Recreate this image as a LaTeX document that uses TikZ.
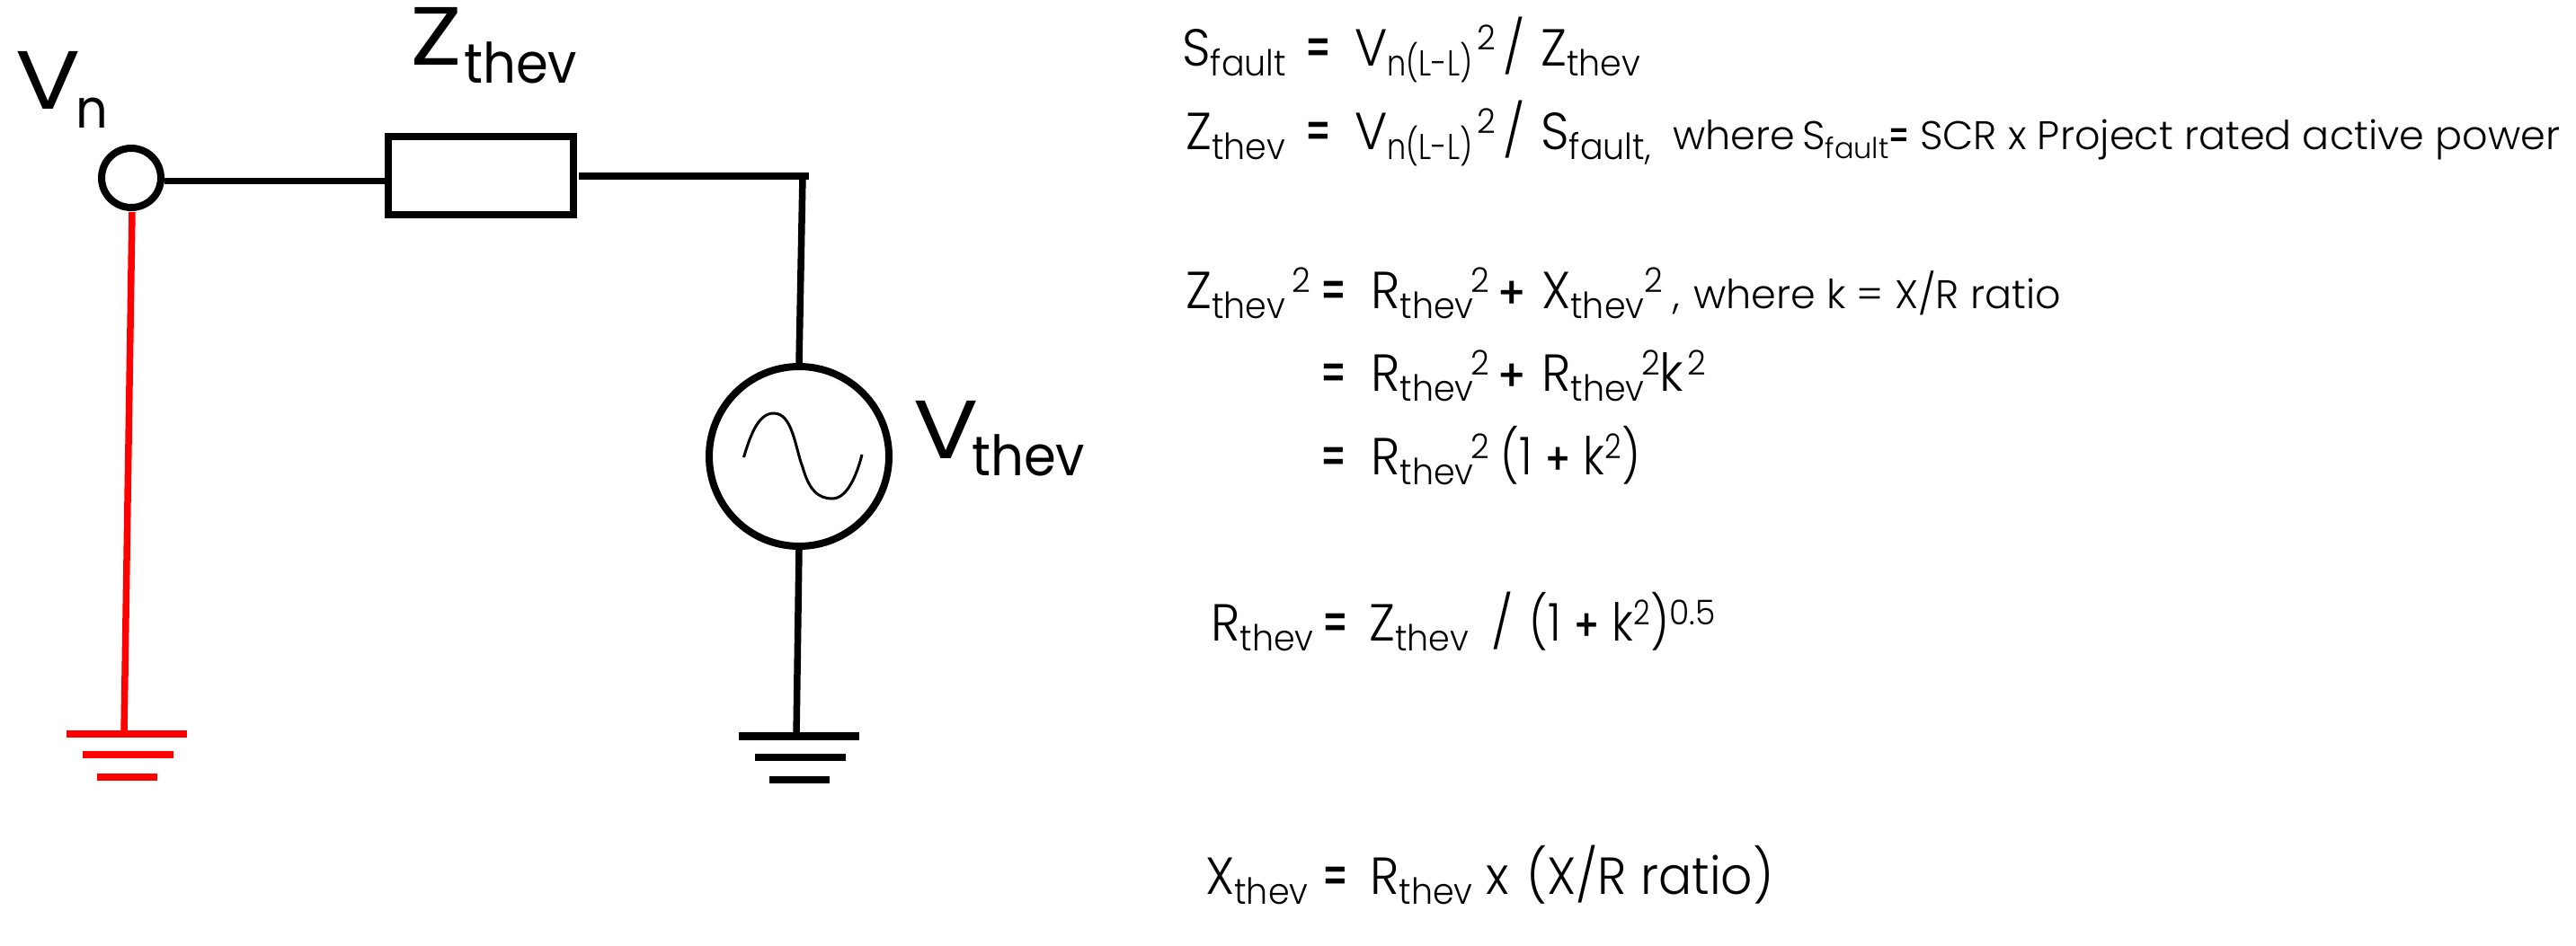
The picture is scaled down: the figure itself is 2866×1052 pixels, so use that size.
\documentclass[tikz,border=0pt]{standalone}
\usepackage{fontspec}
\setmainfont{Poppins}[UprightFont=* Light,BoldFont=* Medium,FakeStretch=0.95]
\newfontfamily\tailf{Poppins}[UprightFont=* Light,BoldFont=* Medium]
\newfontfamily\lblf{Poppins}[UprightFont=* Regular,FakeStretch=0.93]
\newcommand{\Fs}[1]{\fontsize{#1}{#1}\selectfont}
\newcommand{\Pc}[2]{\makebox[#1pt][l]{#2}}
\newcommand{\Sb}[1]{\raisebox{-11pt}{\Fs{40}#1}}
\newcommand{\Sbn}[1]{\raisebox{-11pt}{\scalebox{.88}[1]{\Fs{40}#1}}}
\newcommand{\Sbs}[1]{\raisebox{-10pt}{\Fs{32}#1}}
\newcommand{\Sp}[1]{\raisebox{18pt}{\Fs{38}#1}}
\newcommand{\Eq}{\hspace{-1pt}\scalebox{.72}[1]{\textbf{=}}}
\newcommand{\Pl}{\scalebox{.85}{\textbf{+}}}
\newcommand{\Nw}[1]{\scalebox{.9}[1]{#1}}
\newcommand{\Wd}[1]{\scalebox{1.25}[1]{#1}}
\tikzset{
  wire/.style={line width=7.5pt,black},
  redwire/.style={line width=7.5pt,red},
  eqline/.style={anchor=base west,inner sep=0pt,font=\Fs{58}},
  term/.style={anchor=base west,inner sep=0pt,font=\lblf}
}
\begin{document}
\begin{tikzpicture}[x=1pt,y=-1pt]
\useasboundingbox (0,0) rectangle (2866,1052);
% circuit
\node[circle,draw,line width=8pt,minimum size=66pt,inner sep=0pt] (vn) at (146,198) {};
\node[rectangle,draw,line width=7.5pt,minimum width=206pt,minimum height=87pt,inner sep=0pt] (zt) at (535,195.5) {};
\node[circle,draw,line width=8pt,minimum size=200pt,inner sep=0pt] (src) at (889,508) {};
\coordinate (cor) at (900,196);
\coordinate (corv) at (893,196);
\coordinate (zr) at (644,196);
\coordinate (gb) at (886,819);
\coordinate (gr) at (138,817);
\coordinate (vns) at (147,236);
\draw[wire] (vn.east |- 0,201.5) -- (zt.west |- 0,201.5);
\draw[wire] (zr) -- (cor);
\draw[wire] (corv) -- (src.north);
\draw[wire] (src.south) -- (gb);
\draw[redwire] (vns) -- (gr);
\draw[line width=3pt] (827.5,509) .. controls (836,480) and (845,460) .. (861,460)
  .. controls (882,460) and (885,500) .. (893,520)
  .. controls (900,545) and (910,555) .. (926,555)
  .. controls (942,555) and (953,530) .. (959,506);
\draw[line width=8.5pt] (822,819.5) -- (956,819.5) (840,843) -- (941,843) (856,868) -- (923,868);
\draw[red,line width=8.5pt] (74,817) -- (208,817) (92,840) -- (193,840) (108,865) -- (175,865);
% circuit labels
\node[term] (lvn) at (17,121) {\Fs{92}\Pc{67}{\Wd{V}}\raisebox{-21pt}{\Fs{60}n}};
\node[term] (lzt) at (456,72) {\Fs{92}\Pc{60}{\Wd{Z}}\raisebox{-20pt}{\Fs{62}thev}};
\node[term] (lvt) at (1016,510) {\Fs{92}\Pc{65}{\Wd{V}}\raisebox{-19pt}{\Fs{62}thev}};
% equations
\node[eqline] (e1) at (1315,73) {\Pc{137}{S\Sb{fault}}\Pc{55}{\Eq}\Pc{136}{V\Sbn{n(L-L)}}\Pc{29}{\Sp{2}}\Pc{42}{/}Z\Sb{thev}};
\node[eqline] (e2) at (1319,166) {\Pc{133}{Z\Sb{thev}}\Pc{55}{\Eq}\Pc{136}{V\Sbn{n(L-L)}}\Pc{29}{\Sp{2}}\Pc{42}{/}\Pc{147}{S\Sb{fault,}}{\tailf\Fs{44.5}\Pc{144}{where}\Pc{96}{S\Sbs{fault}}\Pc{35}{\Eq}SCR x Project rated active power}};
\node[eqline] (e3) at (1319,343) {\Pc{118}{Z\Sb{thev}}\Pc{32}{\Sp{2}}\Pc{56}{\Eq}\Pc{111}{R\Sb{thev}}\Pc{29}{\Sp{2}}\Pc{50}{\Pl}\Pc{114}{X\Sb{thev}}\Pc{32}{\Sp{2}}{\tailf\Fs{44.5}\Pc{23}{,}where k = X/R ratio}};
\node[eqline] (e4) at (1469,435) {\Pc{56}{\Eq}\Pc{111}{R\Sb{thev}}\Pc{29}{\Sp{2}}\Pc{50}{\Pl}\Pc{111}{R\Sb{thev}}\Pc{20}{\Sp{2}}\Pc{31}{k}\Sp{2}};
\node[eqline] (e5) at (1469,528) {\Pc{56}{\Eq}\Pc{111}{R\Sb{thev}}\Pc{33}{\Sp{2}}\Nw{(1 \Pl{} k\Sp{2})}};
\node[eqline] (e6) at (1347,713) {\Pc{124}{R\Sb{thev}}\Pc{52}{\Eq}\Pc{136}{Z\Sb{thev}}\Pc{42}{/}\Pc{156}{\Nw{(1 \Pl{} k\Sp{2})}}\Sp{0.5}};
\node[eqline] (e7) at (1341,995) {\Pc{130}{X\Sb{thev}}\Pc{53}{\Eq}\Pc{129}{R\Sb{thev}}\Pc{45}{x}(X/R ratio)};
\end{tikzpicture}
\end{document}
